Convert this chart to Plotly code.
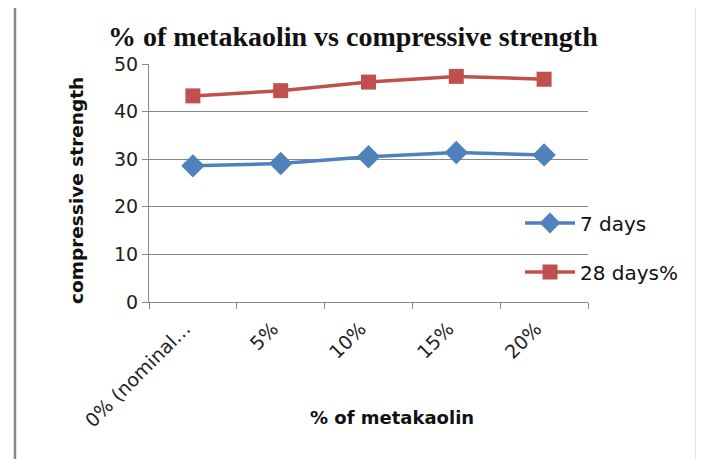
import plotly.graph_objects as go

categories = ["0% (nominal\u2026", "5%", "10%", "15%", "20%"]
days7 = [28.6, 29.1, 30.5, 31.4, 30.9]
days28 = [43.3, 44.4, 46.2, 47.4, 46.8]
series_names = ["7 days", "28 days%"]
yticks = [0, 10, 20, 30, 40, 50]

OFF = 8  # page body margin
W, H = 704 - OFF, 459 - OFF
L, T = 149 - OFF, 64 - OFF
R = W - (588 - OFF)
B = H - (302 - OFF)
pw, ph = W - L - R, H - T - B

def px(xpage):
    return (xpage - OFF - L) / pw

def py(ypage):
    return (H - B - (ypage - OFF)) / ph

fig = go.Figure()
fig.add_trace(go.Scatter(
    x=categories, y=days7, name=series_names[0], mode="lines+markers",
    line=dict(color="#4F81BD", width=3.5),
    marker=dict(symbol="diamond", size=18, color="#4F81BD"),
    legend="legend"))
fig.add_trace(go.Scatter(
    x=categories, y=days28, name=series_names[1], mode="lines+markers",
    line=dict(color="#C0504D", width=3.5),
    marker=dict(symbol="square", size=15, color="#C0504D"),
    legend="legend2"))

sans = "DejaVu Sans, sans-serif"
tick_font = dict(family=sans, size=19, color="#222")
leg_font = dict(family=sans, size=20, color="#111")

fig.update_layout(
    width=W, height=H,
    margin=dict(l=L, r=R, t=T, b=B, pad=0),
    paper_bgcolor="white", plot_bgcolor="white",
    showlegend=True,
    legend=dict(x=px(520), y=py(223), xanchor="left", yanchor="middle",
                font=leg_font, bgcolor="rgba(0,0,0,0)", itemwidth=50),
    legend2=dict(x=px(520), y=py(272), xanchor="left", yanchor="middle",
                 font=leg_font, bgcolor="rgba(0,0,0,0)", itemwidth=50),
    xaxis=dict(type="category", showline=True, linecolor="#888", linewidth=1.2,
               ticks="outside", tickson="boundaries", ticklen=6, tickcolor="#888",
               tickangle=-45, tickfont=tick_font, showgrid=False,
               ticklabelstandoff=7, ticklabelshift=-8,
               range=[-0.5, 4.5]),
    yaxis=dict(range=[0, 50], tickvals=yticks, showline=True, linecolor="#888",
               linewidth=1.2, ticks="outside", ticklen=6, tickcolor="#888",
               showgrid=True, gridcolor="#888", gridwidth=1.2,
               tickfont=tick_font, zeroline=False),
    annotations=[
        dict(text="<b>% of metakaolin vs compressive strength</b>", xref="paper", yref="paper",
             x=px(353), y=py(37), xanchor="center", yanchor="middle", showarrow=False,
             font=dict(family="Liberation Serif, Times New Roman, serif", size=28, color="#111")),
        dict(text="<b>compressive strength</b>", xref="paper", yref="paper",
             x=px(76), y=py(191), xanchor="center", yanchor="middle", showarrow=False,
             textangle=-90,
             font=dict(family=sans, size=18.5, color="#111")),
        dict(text="<b>% of metakaolin</b>", xref="paper", yref="paper",
             x=px(392), y=py(417), xanchor="center", yanchor="middle", showarrow=False,
             font=dict(family=sans, size=18, color="#111")),
    ],
    shapes=[dict(type="rect", xref="paper", yref="paper",
                 x0=px(15), x1=px(697), y0=py(480), y1=py(6),
                 line=dict(color="#8a8a8a", width=2.5), fillcolor="rgba(0,0,0,0)",
                 layer="above")],
)

fig.write_html("out.html")
